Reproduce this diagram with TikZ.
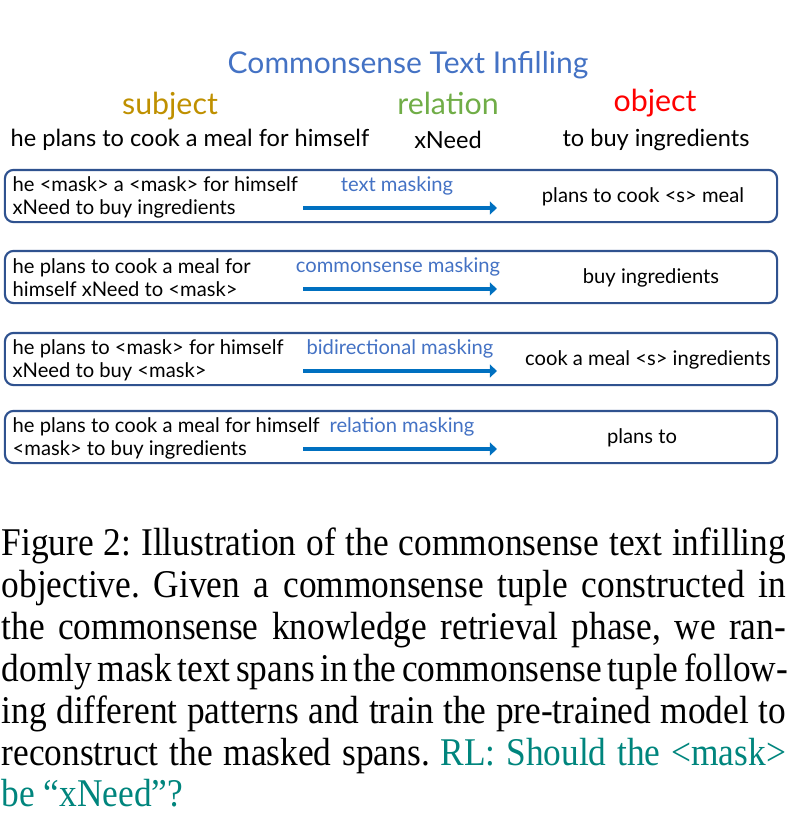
\documentclass[tikz,border=0pt]{standalone}
\usepackage{fontspec}
\usetikzlibrary{arrows.meta}
\setmainfont{Liberation Serif}[FakeStretch=0.9]
\newfontfamily\diagfont{Lato}
\definecolor{titleblue}{RGB}{68,114,196}
\definecolor{subjgold}{RGB}{191,144,0}
\definecolor{relgreen}{RGB}{112,173,71}
\definecolor{boxblue}{RGB}{47,82,143}
\definecolor{arrowblue}{RGB}{0,112,192}
\definecolor{rlteal}{RGB}{0,133,125}
\newcommand{\capline}[1]{\makebox[219.6pt][s]{\frenchspacing\spaceskip=0.22em plus 0.6em minus 0.08em\relax #1}}

\begin{document}
\begin{tikzpicture}[x=0.28pt, y=-0.28pt,
  heading/.style={font=\diagfont\fontsize{8.5}{9}\selectfont, inner sep=0pt},
  tuple/.style={font=\diagfont\fontsize{6.6}{7}\selectfont, inner sep=0pt},
  plain/.style={font=\diagfont\fontsize{5.65}{6.44}\selectfont, inner sep=0pt},
  masklabel/.style={font=\diagfont\fontsize{5.65}{6}\selectfont, text=titleblue, inner sep=0pt},
  rowbox/.style={draw=boxblue, line width=0.6pt, rounded corners=2.4pt,
    minimum width=216.2pt, minimum height=14.6pt, inner sep=0pt},
  maskarrow/.style={arrowblue, line width=1pt, -{Triangle[length=2pt,width=3.6pt]}},
  caption/.style={font=\fontsize{11}{12}\selectfont, inner sep=0pt, anchor=base west}
]
\useasboundingbox (0,0) rectangle (799,813);

% Title
\node[font=\diagfont\fontsize{8.4}{9}\selectfont, text=titleblue, inner sep=0pt] (title) at (408,65) {Commonsense Text Infilling};

% Tuple headings
\node[heading, text=subjgold] (subj) at (170,106) {subject};
\node[heading, text=relgreen] (rel) at (448,103) {relation};
\node[heading, text=red] (obj) at (655,103) {object};

% Tuple
\node[tuple] (subjtxt) at (190,140) {he plans to cook a meal for himself};
\node[tuple] (reltxt) at (448,140) {xNeed};
\node[tuple] (objtxt) at (656,140) {to buy ingredients};

% Masking rows
\foreach \i/\y/\lx/\lab/\src/\tgt/\tx in {
1/196/397/text masking/{he <mask> a <mask> for himself\\xNeed to buy ingredients}/{plans to cook <s> meal}/643,
2/277/398/commonsense masking/{he plans to cook a meal for\\himself xNeed to <mask>}/{buy ingredients}/651,
3/359/400/bidirectional masking/{he plans to <mask> for himself\\xNeed to buy <mask>}/{cook a meal <s> ingredients}/648,
4/437/402/relation masking/{he plans to cook a meal for himself\\<mask> to buy ingredients}/{plans to}/642} {
    \node[rowbox] (box\i) at (391,\y) {};
    \node[plain, align=left, anchor=west] (src\i) at (12,\y+1) {\src};
    \node[masklabel] (lab\i) at (\lx,\y-10) {\lab};
    \coordinate (as\i) at (303,\y+12);
    \coordinate (ae\i) at (497,\y+12);
    \draw[maskarrow] (as\i) -- (ae\i);
    \node[plain] (tgt\i) at (\tx,\y+1) {\tgt};
}

% Caption
\node[caption] (cap1) at (1,555) {\capline{Figure 2: Illustration of the commonsense text infilling}};
\node[caption] (cap2) at (1,597) {\capline{objective. Given a commonsense tuple constructed in}};
\node[caption] (cap3) at (1,639) {\capline{the commonsense knowledge retrieval phase, we ran-}};
\node[caption] (cap4) at (1,681) {\capline{domly mask text spans in the commonsense tuple follow-}};
\node[caption] (cap5) at (1,723) {\capline{ing different patterns and train the pre-trained model to}};
\node[caption] (cap6) at (1,765) {\capline{reconstruct the masked spans. \textcolor{rlteal}{RL: Should the <mask>}}};
\node[caption, text=rlteal] (cap7) at (1,806) {be “xNeed”?};

\end{tikzpicture}
\end{document}
